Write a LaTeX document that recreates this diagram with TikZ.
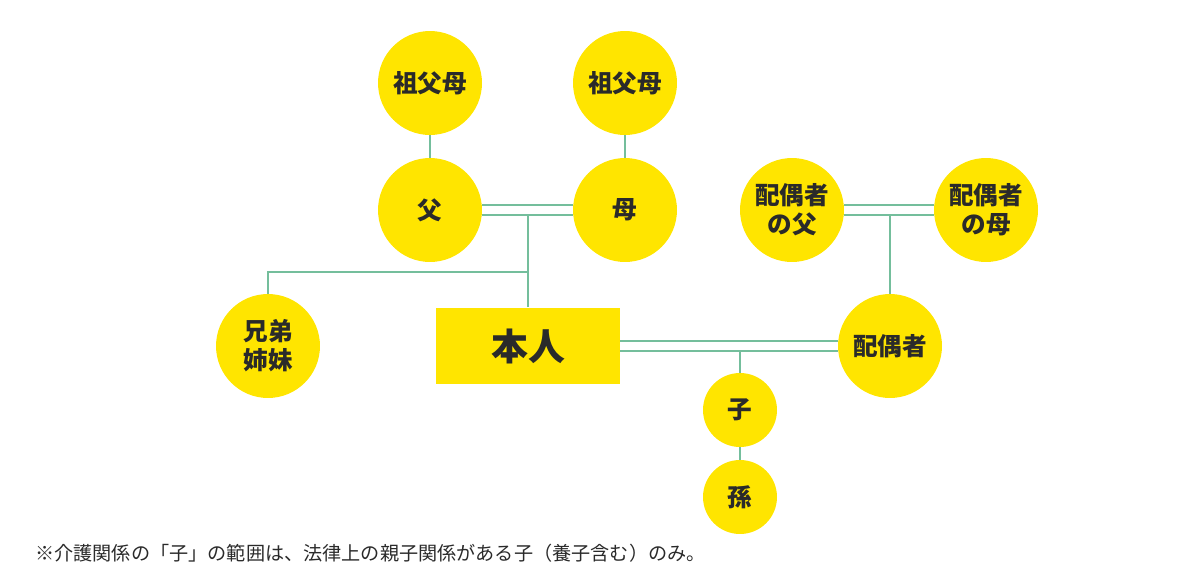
\documentclass[tikz,border=0pt]{standalone}
\usepackage{fontspec}
\setmainfont{Noto Sans CJK JP}
\definecolor{kiiro}{HTML}{FFE500}
\definecolor{sen}{HTML}{74BE9C}
\definecolor{moji}{HTML}{2A2A2A}
\begin{document}
\begin{tikzpicture}[x=0.02cm, y=-0.02cm,
  person/.style={circle, fill=kiiro, minimum size=2.08cm, inner sep=0pt,
    text=moji, font=\fontsize{14}{16.5}\selectfont\bfseries, align=center},
  small/.style={person, minimum size=1.48cm},
  link/.style={draw=sen, line width=1.1pt}]
\useasboundingbox (0,0) rectangle (1200,578);
\node[person](GL) at (430, 83) {祖父母};
\node[person](GR) at (625, 83) {祖父母};
\node[person](Fa) at (430, 210) {父};
\node[person](Mo) at (625, 210) {母};
\node[person](Sib) at (268, 346) {兄弟\\姉妹};
\node[fill=kiiro, minimum width=3.68cm, minimum height=1.54cm, text=moji,
  font=\fontsize{21}{24}\selectfont\bfseries](Ego) at (528, 346) {本人};
\node[person](SpF) at (792, 210) {配偶者\\の父};
\node[person](SpM) at (986, 210) {配偶者\\の母};
\node[person](Sp) at (890, 346) {配偶者};
\node[small](Ch) at (740, 410) {子};
\node[small](GC) at (740, 497) {孫};
\node[anchor=west, text=moji, inner sep=0pt, font=\fontsize{10.9}{12}\selectfont](note)
  at (35, 553) {※介護関係の「子」の範囲は、法律上の親子関係がある子（養子含む）のみ。};
\coordinate(br) at (528, 272);
% double lines for couples
\path[link]
([yshift=0.1cm]Fa.east) edge ([yshift=0.1cm]Mo.west)
([yshift=-0.1cm]Fa.east) edge coordinate(FM) ([yshift=-0.1cm]Mo.west)
([yshift=0.1cm]SpF.east) edge ([yshift=0.1cm]SpM.west)
([yshift=-0.1cm]SpF.east) edge coordinate(SS) ([yshift=-0.1cm]SpM.west)
([yshift=0.1cm]Ego.east) edge ([yshift=0.1cm]Sp.west)
([yshift=-0.1cm]Ego.east) edge coordinate(ES) ([yshift=-0.1cm]Sp.west);
\path[link]
(GL) edge (Fa)
(GR) edge (Mo)
(Ch) edge (GC)
(Ego.north) edge (Ego.north |- FM)
(Sp.north) edge (Sp.north |- SS)
(Ch.north) edge (Ch.north |- ES);
\draw[link] (Sib.north) |- (br);
\end{tikzpicture}
\end{document}
